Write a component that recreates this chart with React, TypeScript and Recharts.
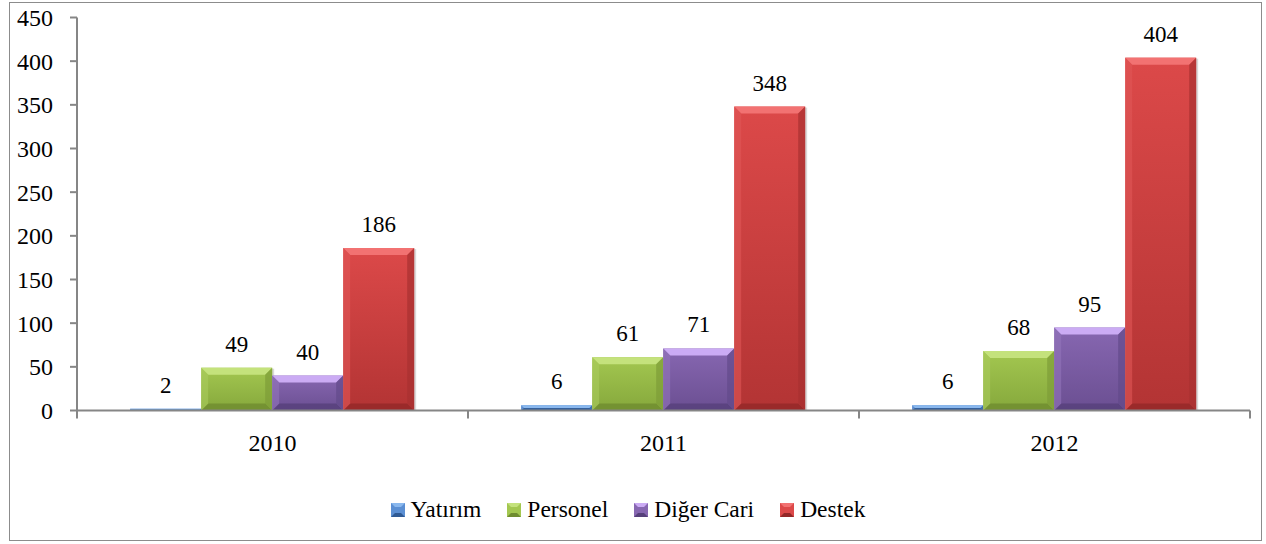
import React from 'react';
import { BarChart, Bar, XAxis, YAxis, LabelList, Legend } from 'recharts';

const categories = ['2010', '2011', '2012'];
const yatirim = [2, 6, 6];
const personel = [49, 61, 68];
const digerCari = [40, 71, 95];
const destek = [186, 348, 404];
const yTicks = [0, 50, 100, 150, 200, 250, 300, 350, 400, 450];

const seriesKeys = ['yatirim', 'personel', 'digerCari', 'destek'];
const seriesNames = ['Yatırım', 'Personel', 'Diğer Cari', 'Destek'];

const palette: Record<string, any> = {
  yatirim: { top: '#5b8fd3', bottom: '#3d6fb0', light: '#8ab8ee', dark: '#2f5a94', left: '#6a9ad8', right: '#3a68a6' },
  personel: { top: '#a3c750', bottom: '#86a83c', light: '#c4e27c', dark: '#6f8c30', left: '#aacb5e', right: '#7e9d38' },
  digerCari: { top: '#8767b1', bottom: '#6b4f92', light: '#cbabf4', dark: '#56407a', left: '#9274bb', right: '#634a8a' },
  destek: { top: '#dc4949', bottom: '#b33434', light: '#f27272', dark: '#932828', left: '#e05656', right: '#a83030' },
};

const data = categories.map((c, i) => ({
  year: c,
  yatirim: yatirim[i],
  personel: personel[i],
  digerCari: digerCari[i],
  destek: destek[i],
}));

const FONT = "'Liberation Serif', Tinos, 'Times New Roman', Times, 'DejaVu Serif', serif";

const makeShape = (key: string) => (props: any) => {
  const { x, y, width, height, index } = props;
  if (width == null || height == null || height <= 0) return <g />;
  const c = palette[key];
  const b = Math.min(7, height / 2, width / 2);
  const id = `g-${key}-${index}`;
  const w = width;
  const h = height;
  return (
    <g>
      <defs>
        <linearGradient id={id} x1="0" y1="0" x2="0" y2="1">
          <stop offset="0%" stopColor={c.top} />
          <stop offset="100%" stopColor={c.bottom} />
        </linearGradient>
      </defs>
      <rect x={x + 2} y={y + 1} width={w} height={h - 1} fill="rgba(0,0,0,0.15)" />
      <rect x={x} y={y} width={w} height={h} fill={`url(#${id})`} />
      <polygon points={`${x},${y} ${x + w},${y} ${x + w - b},${y + b} ${x + b},${y + b}`} fill={c.light} />
      <polygon points={`${x},${y + h} ${x + w},${y + h} ${x + w - b},${y + h - b} ${x + b},${y + h - b}`} fill={c.dark} opacity={0.8} />
      <polygon points={`${x},${y} ${x + b},${y + b} ${x + b},${y + h - b} ${x},${y + h}`} fill={c.left} opacity={0.6} />
      <polygon points={`${x + w},${y} ${x + w - b},${y + b} ${x + w - b},${y + h - b} ${x + w},${y + h}`} fill={c.right} opacity={0.7} />
    </g>
  );
};

const XTick = (props: any) => {
  const { x, y, payload, index, visibleTicksCount, width } = props;
  const half = payload && payload.offset != null ? payload.offset : width / visibleTicksCount / 2;
  const count = visibleTicksCount || categories.length;
  return (
    <g>
      <line x1={x - half} x2={x - half} y1={y} y2={y + 8} stroke="#868686" strokeWidth={2} />
      {index === count - 1 && (
        <line x1={x + half} x2={x + half} y1={y} y2={y + 8} stroke="#868686" strokeWidth={2} />
      )}
      <text x={x} y={y + 40} textAnchor="middle" fontSize={24} style={{ fontFamily: FONT }} fill="#000">
        {payload.value}
      </text>
    </g>
  );
};

const LegendSquare = ({ k }: { k: string }) => {
  const c = palette[k];
  const s = 14;
  const b = 4;
  return (
    <svg width={s} height={s} style={{ display: 'block' }}>
      <rect x={0} y={0} width={s} height={s} fill={c.top} />
      <polygon points={`0,0 ${s},0 ${s - b},${b} ${b},${b}`} fill={c.light} />
      <polygon points={`0,${s} ${s},${s} ${s - b},${s - b} ${b},${s - b}`} fill={c.dark} />
    </svg>
  );
};

const LegendContent = () => (
  <div style={{ display: 'flex', justifyContent: 'center', alignItems: 'center', fontFamily: FONT, fontSize: 23.5, lineHeight: '30px', color: '#000' }}>
    {seriesKeys.map((k, i) => (
      <div key={k} style={{ display: 'flex', alignItems: 'center', marginRight: i < seriesKeys.length - 1 ? 26 : 0 }}>
        <div style={{ marginRight: 6, marginTop: 2 }}>
          <LegendSquare k={k} />
        </div>
        <span>{seriesNames[i]}</span>
      </div>
    ))}
  </div>
);

export default function App() {
  return (
    <div style={{ position: 'absolute', left: 0, top: 0, width: 1266, height: 544, background: '#fff', fontFamily: FONT }}>
      <div style={{ position: 'absolute', left: 9, top: 2, width: 1253, height: 539, border: '1.5px solid #8c8c8c', boxSizing: 'border-box' }} />
      <div style={{ position: 'absolute', left: 0, top: 0 }}>
        <BarChart
          width={1266}
          height={544}
          data={data}
          margin={{ top: 17.5, right: 16, left: 0, bottom: 73.5 }}
          barCategoryGap="13.6%"
          barGap={0}
          style={{ fontFamily: FONT }}
        >
          <XAxis
            dataKey="year"
            height={60}
            axisLine={{ stroke: '#868686', strokeWidth: 2 }}
            tickLine={false}
            tickSize={0}
            tickMargin={0}
            tick={<XTick />}
            interval={0}
          />
          <YAxis
            width={77}
            domain={[0, 450]}
            ticks={yTicks}
            interval={0}
            axisLine={{ stroke: '#868686', strokeWidth: 2 }}
            tickLine={{ stroke: '#868686', strokeWidth: 2 }}
            tickSize={7}
            tickMargin={17}
            tick={{ fontSize: 24, fill: '#000', style: { fontFamily: FONT } }}
          />
          <Legend
            layout="horizontal"
            verticalAlign="middle"
            align="center"
            content={<LegendContent />}
            wrapperStyle={{ top: 494, left: 0, width: 1256 }}
          />
          {seriesKeys.map((k, i) => (
            <Bar key={k} dataKey={k} name={seriesNames[i]} fill={palette[k].top} shape={makeShape(k)} isAnimationActive={false}>
              <LabelList dataKey={k} position="top" offset={16} fontSize={23} fill="#000" style={{ fontFamily: FONT }} />
            </Bar>
          ))}
        </BarChart>
      </div>
    </div>
  );
}
